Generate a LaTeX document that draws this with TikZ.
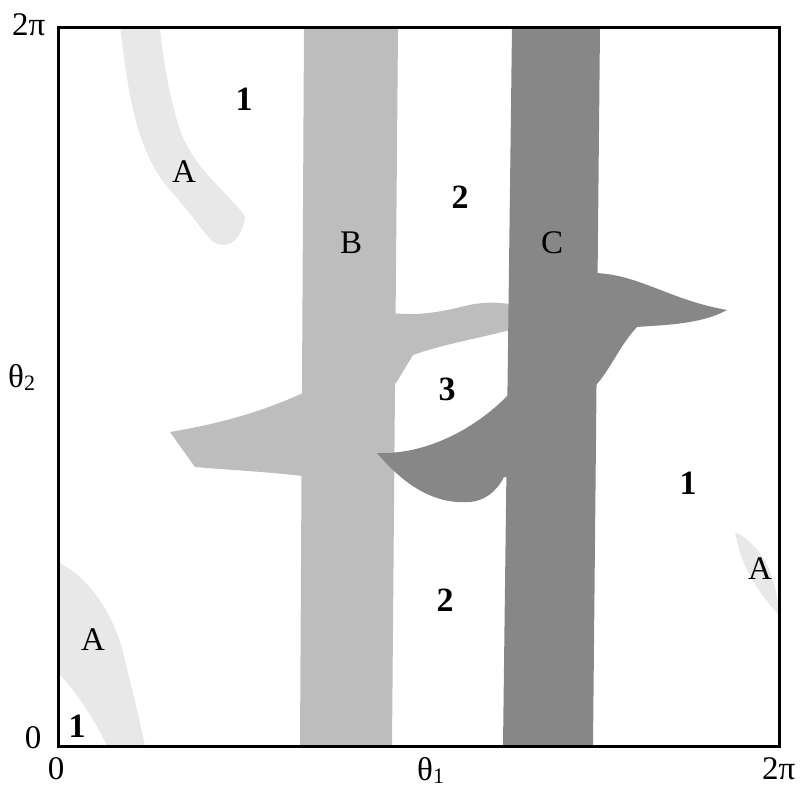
\documentclass[tikz,border=0pt]{standalone}
\usepackage{fontspec}
\setmainfont{Liberation Serif}

\definecolor{regA}{gray}{0.91}
\definecolor{bandB}{gray}{0.74}
\definecolor{bandC}{gray}{0.53}

\begin{document}
\begin{tikzpicture}[x=1pt, y=-1pt,
        lbl/.style={font=\fontsize{33}{33}\selectfont, inner sep=0pt, anchor=base},
        num/.style={font=\fontsize{34}{34}\selectfont\bfseries, inner sep=0pt, anchor=base}]

        % ==== CANVAS ====
        \useasboundingbox (0,0) rectangle (802,790);

        % ==== FRAME CORNERS ====
        \def\xL{58}  \def\xR{779}
        \def\yT{27}  \def\yB{746}
        \def\sub#1{\raisebox{-0.25ex}{\fontsize{22}{22}\selectfont #1}}

        % ==== REGIONS A ====
        \fill[regA] (120,\yT) .. controls (128,90) and (135,150) .. (170,190)
                .. controls (190,212) and (203,232) .. (212,241)
                .. controls (224,250) and (242,244) .. (245,216)
                .. controls (225,190) and (195,170) .. (180,130)
                .. controls (170,100) and (163,60) .. (160,\yT) -- cycle;
        \fill[regA] (\xL,562) .. controls (90,578) and (115,615) .. (125,660)
                .. controls (132,690) and (140,720) .. (145,\yB) -- (107,\yB)
                .. controls (95,720) and (75,690) .. (\xL,673) -- cycle;
        \fill[regA] (735,532) .. controls (760,545) and (776,570) .. (\xR,615)
                .. controls (765,600) and (745,575) .. (738,545) -- cycle;

        % ==== BAND B ====
        \fill[bandB] (304,\yT) -- (398,\yT) -- (392,\yB) -- (300,\yB) -- cycle;
        % left arm
        \fill[bandB] (303,393) .. controls (270,408) and (230,422) .. (170,432)
                -- (195,467) .. controls (230,470) and (270,472) .. (302,476) -- cycle;
        % right arm
        \fill[bandB] (390,313) .. controls (420,316) and (440,312) .. (465,306)
                .. controls (480,302) and (495,302) .. (510,304) -- (510,330)
                .. controls (480,338) and (440,345) .. (413,355) -- (396,383)
                -- (390,383) -- cycle;

        % ==== BAND C ====
        \fill[bandC] (512,\yT) -- (600,\yT) -- (593,\yB) -- (503,\yB) -- cycle;
        % right arm
        \fill[bandC] (596,273) .. controls (640,275) and (670,300) .. (727,310)
                .. controls (700,325) and (660,325) .. (637,327)
                .. controls (620,345) and (610,370) .. (596,385)
                -- (590,385) -- (590,273) -- cycle;
        % lower lobe
        \fill[bandC] (510,393) .. controls (480,425) and (430,455) .. (377,453)
                .. controls (400,480) and (430,505) .. (470,502)
                .. controls (490,500) and (500,485) .. (504,477)
                -- (515,477) -- (515,393) -- cycle;

        % ==== FRAME ====
        \draw[line width=3pt] (\xL,\yT) rectangle (\xR,\yB);

        % ==== REGION LABELS ====
        \node[num] (one1)  at (244,110) {1};
        \node[lbl] (a1)    at (184,182) {A};
        \node[num] (two1)  at (460,208) {2};
        \node[lbl] (b)     at (351,253) {B};
        \node[lbl] (c)     at (552,253) {C};
        \node[num] (three) at (447,400) {3};
        \node[num] (one2)  at (688,494) {1};
        \node[lbl] (a2)    at (760,579) {A};
        \node[num] (two2)  at (445,611) {2};
        \node[lbl] (a3)    at (93,650) {A};
        \node[num] (one3)  at (77,737) {1};

        % ==== AXIS LABELS ====
        \node[lbl, anchor=base west] (ytop)  at (12,35) {2π};
        \node[lbl, anchor=base west] (yname) at (8,387) {θ\sub{2}};
        \node[lbl] (yzero) at (33,748) {0};
        \node[lbl] (xzero) at (56,779) {0};
        \node[lbl, anchor=base west] (xname) at (417,780) {θ\sub{1}};
        \node[lbl, anchor=base west] (xtop)  at (762,779) {2π};
    \end{tikzpicture}
\end{document}
